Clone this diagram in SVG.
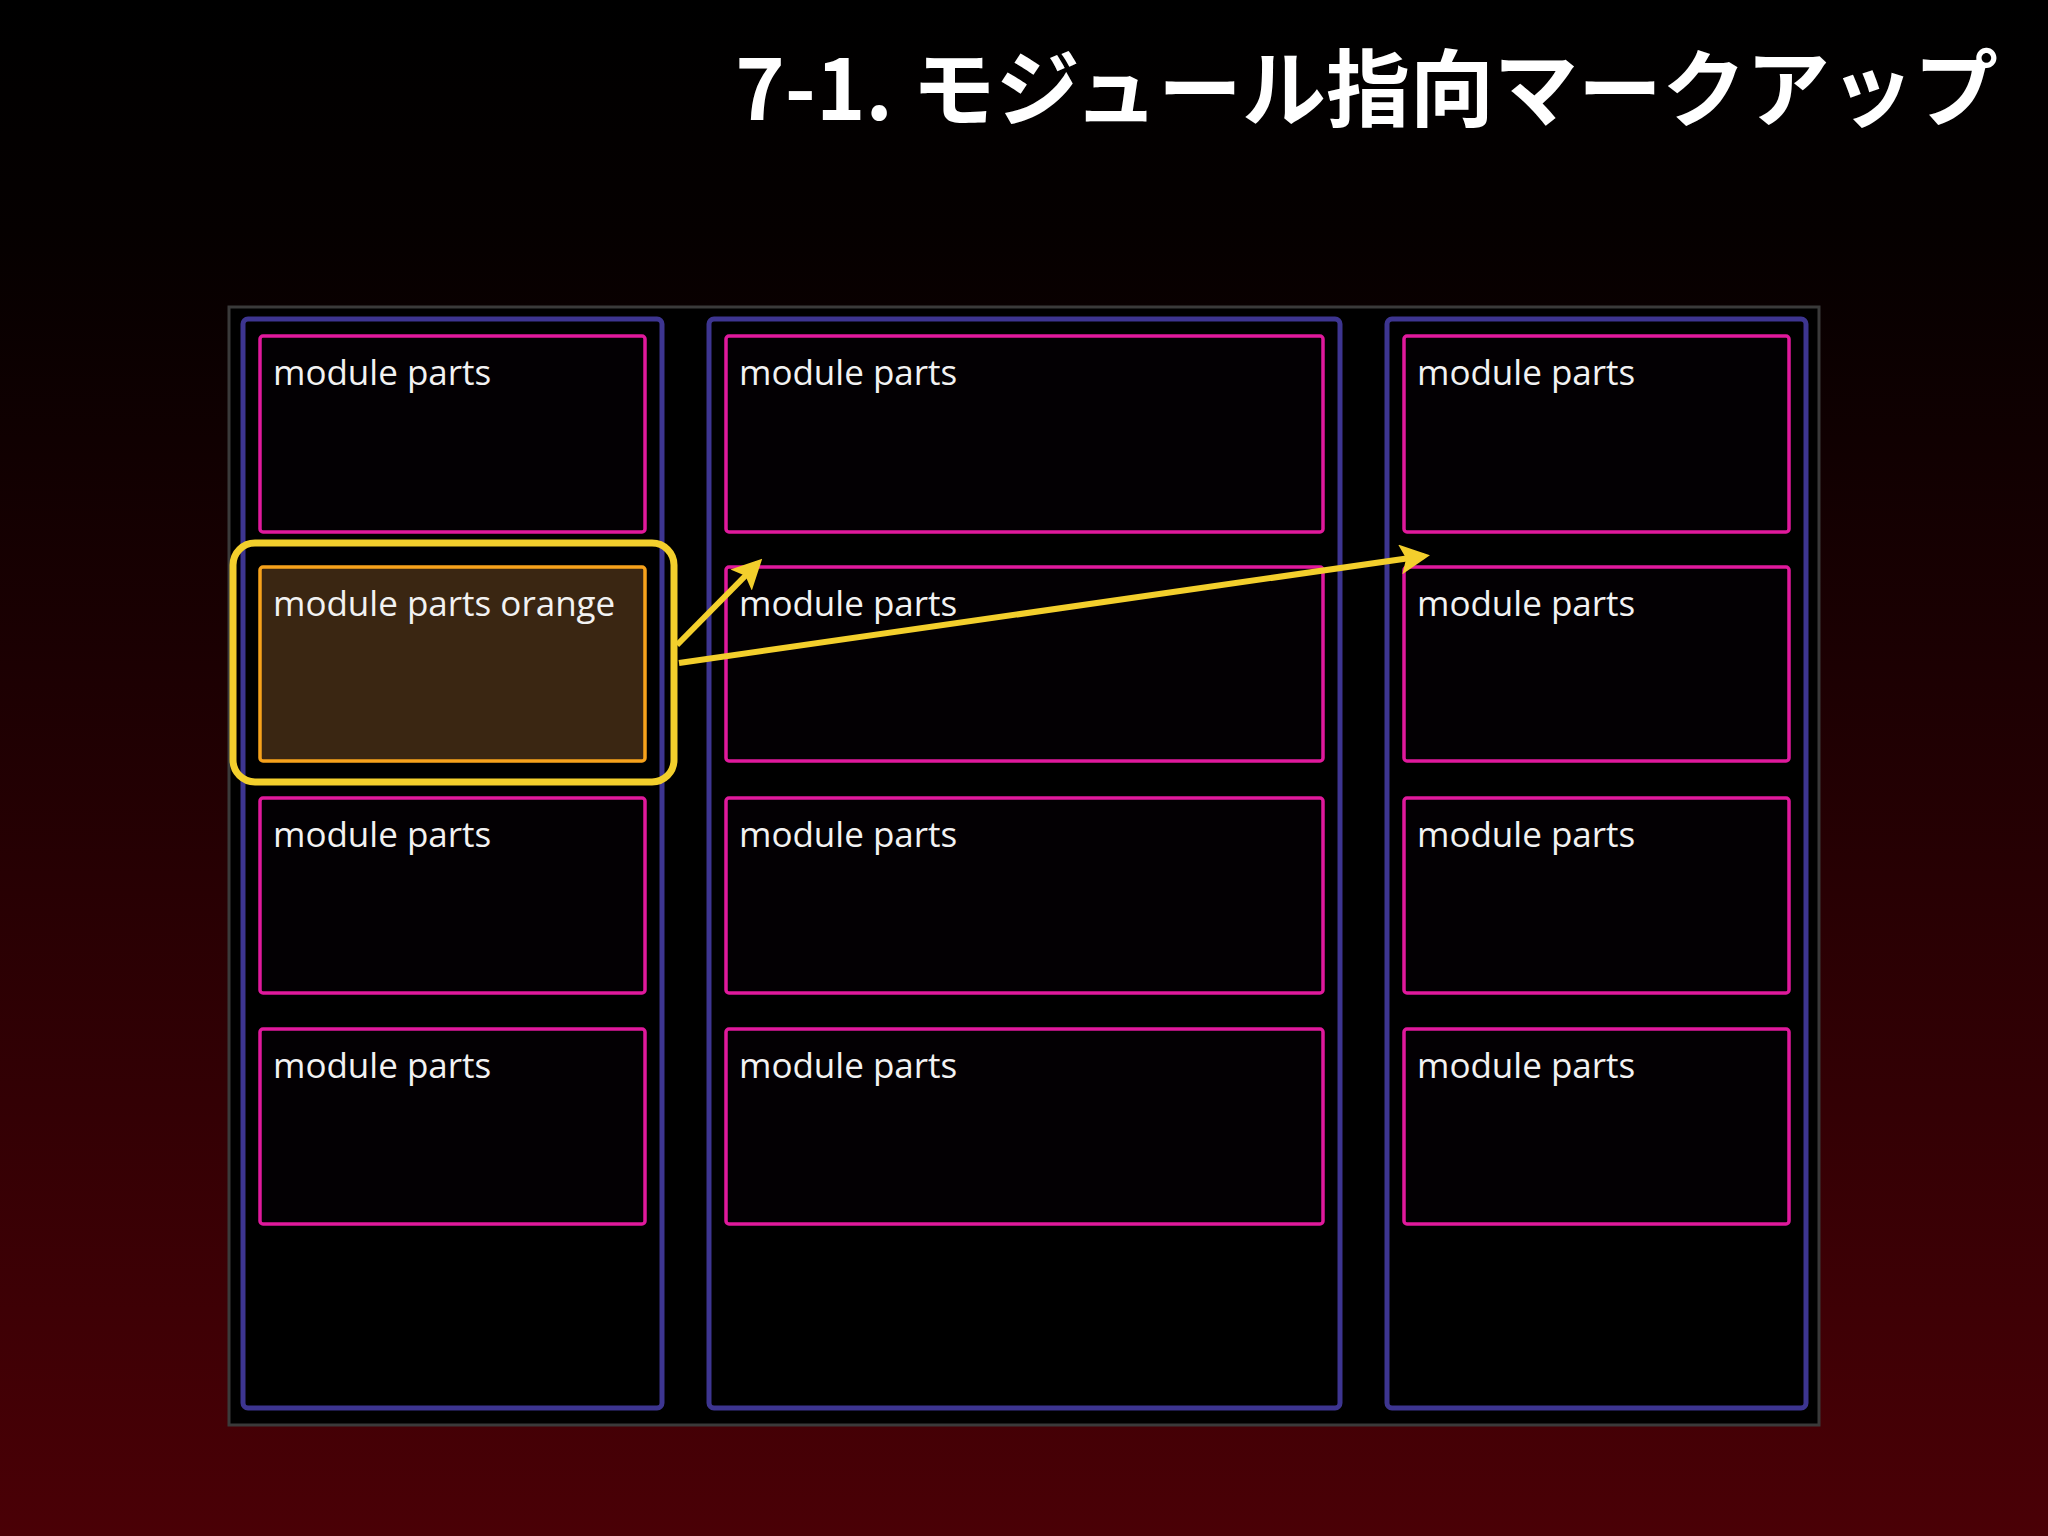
<svg xmlns="http://www.w3.org/2000/svg" width="2048" height="1536" viewBox="0 0 2048 1536">
<defs>
<linearGradient id="bg" x1="0" y1="0" x2="0" y2="1">
<stop offset="0" stop-color="#000"/><stop offset="0.15" stop-color="#050000"/><stop offset="1" stop-color="#4a0006"/>
</linearGradient>
<marker id="ah" viewBox="0 0 10 10" refX="8" refY="5" markerWidth="5" markerHeight="5" orient="auto-start-reverse" markerUnits="strokeWidth">
<path d="M0,0 L10,5 L0,10 L2,5 z" fill="#f3cf2c"/>
</marker>
<style>
.col{fill:#000;stroke:#3d3590;stroke-width:5}
.mp{fill:#030003;stroke:#e0199c;stroke-width:3.5}
.t{font-family:"Open Sans","Liberation Sans",sans-serif;font-size:35px;fill:#f2f2f2}
.arr{stroke:#f3cf2c;stroke-width:6;fill:none;marker-end:url(#ah)}
</style>
</defs>
<rect width="2048" height="1536" fill="url(#bg)"/>
<text x="1998" y="120" text-anchor="end" font-family="'Noto Sans CJK JP',sans-serif" font-weight="bold" font-size="84" fill="#fff">7-1. モジュール指向マークアップ</text>
<rect x="229" y="307" width="1590" height="1118" fill="#000" stroke="#3a3a3a" stroke-width="3"/>
<g id="col1"><rect class="col" x="243" y="319" width="419" height="1089" rx="5"/></g>
<g id="col2"><rect class="col" x="709" y="319" width="631" height="1089" rx="5"/></g>
<g id="col3"><rect class="col" x="1387" y="319" width="419" height="1089" rx="5"/></g>
<g id="c1r1"><rect class="mp" x="260" y="336" width="385" height="196" rx="3"/><text class="t" x="273" y="385">module parts</text></g>
<g id="c1r2"><rect x="260" y="567" width="385" height="194" rx="3" fill="#3a2612" stroke="#f7a21b" stroke-width="3.5"/><text class="t" x="273" y="616">module parts orange</text></g>
<g id="c1r3"><rect class="mp" x="260" y="798" width="385" height="195" rx="3"/><text class="t" x="273" y="847">module parts</text></g>
<g id="c1r4"><rect class="mp" x="260" y="1029" width="385" height="195" rx="3"/><text class="t" x="273" y="1078">module parts</text></g>
<g id="c2r1"><rect class="mp" x="726" y="336" width="597" height="196" rx="3"/><text class="t" x="739" y="385">module parts</text></g>
<g id="c2r2"><rect class="mp" x="726" y="567" width="597" height="194" rx="3"/><text class="t" x="739" y="616">module parts</text></g>
<g id="c2r3"><rect class="mp" x="726" y="798" width="597" height="195" rx="3"/><text class="t" x="739" y="847">module parts</text></g>
<g id="c2r4"><rect class="mp" x="726" y="1029" width="597" height="195" rx="3"/><text class="t" x="739" y="1078">module parts</text></g>
<g id="c3r1"><rect class="mp" x="1404" y="336" width="385" height="196" rx="3"/><text class="t" x="1417" y="385">module parts</text></g>
<g id="c3r2"><rect class="mp" x="1404" y="567" width="385" height="194" rx="3"/><text class="t" x="1417" y="616">module parts</text></g>
<g id="c3r3"><rect class="mp" x="1404" y="798" width="385" height="195" rx="3"/><text class="t" x="1417" y="847">module parts</text></g>
<g id="c3r4"><rect class="mp" x="1404" y="1029" width="385" height="195" rx="3"/><text class="t" x="1417" y="1078">module parts</text></g>
<g id="highlight"><rect x="233" y="543" width="441" height="239" rx="22" fill="none" stroke="#f3cf2c" stroke-width="7"/></g>
<g id="connectors">
<path class="arr" d="M677,645 L758,563"/>
<path class="arr" d="M679,663 L1424,556"/>
</g>
</svg>
